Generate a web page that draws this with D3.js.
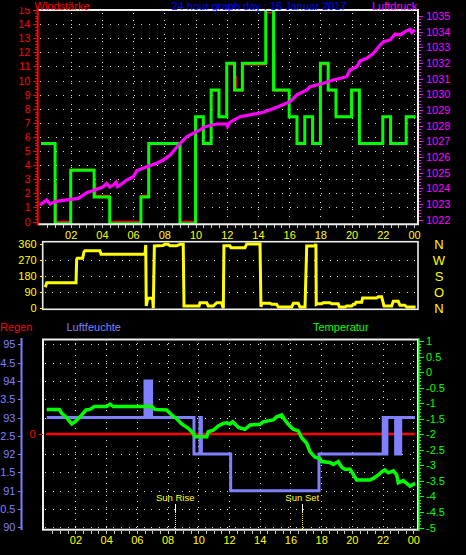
<!DOCTYPE html>
<html><head><meta charset="utf-8">
<script src="https://cdn.jsdelivr.net/npm/d3@7"></script>
<style>html,body{margin:0;padding:0;background:#000;}svg{display:block;}</style>
</head><body>
<svg id="c" width="466" height="555"></svg>
<script>
// ---------- tick labels ----------
const hourTicks = [2,4,6,8,10,12,14,16,18,20,22,24];
const hourLabels = ["02","04","06","08","10","12","14","16","18","20","22","00"];
const windTicks = [0,1,2,3,4,5,6,7,8,9,10,11,12,13,14,15];
const windGrid = [1,2,3,4,5,6,7,8,9,10,11,12,13,14];
const pressureTicks = [1022,1023,1024,1025,1026,1027,1028,1029,1030,1031,1032,1033,1034,1035];
const dirTicks = [0,90,180,270,360];
const dirLetters = ["N","O","S","W","N"];
const dirGrid = [90,180,270];
const humidityTicks = [90,90.5,91,91.5,92,92.5,93,93.5,94,94.5,95];
const tempTicks = [1,0.5,0,-0.5,-1,-1.5,-2,-2.5,-3,-3.5,-4,-4.5,-5];
const rainTicks = [0];

// ---------- series ----------
// wind gusts (green), step series, hours / km/h
const gustTimes  = [0.1,1.0,2.0,3.5,4.5,6.5,7.0,9.0,10.0,10.5,11.0,11.5,12.0,12.5,13.0,14.5,15.0,16.0,16.5,17.0,17.5,18.0,18.5,19.0,20.0,20.5,22.0,22.5,23.5,24.1];
const gustValues = [5.53,-0.16,3.63,1.73,-0.16,1.73,5.53,-0.16,7.43,5.53,9.32,7.43,11.22,9.32,11.22,17,9.32,7.43,5.53,7.43,5.53,11.22,9.32,7.43,9.32,5.53,7.43,5.53,7.43,7.43];
// wind strength (red)
const windTimes  = [0.1,1.0,1.1,2.0,3.5,3.6,4.5,6.5,7.0,9.0,10.0,10.5,11.0,11.5,12.0,12.5,12.6,13.0,14.5,15.0,15.08,16.0,16.5,17.0,17.5,18.0,18.5,19.0,20.0,20.5,22.0,22.5,23.5,24.1];
const windValues = [5.56,2.7,0,3.7,2.7,1.85,0,1.85,5.56,0,7.41,5.56,9.26,7.41,11.11,10.3,9.26,11.11,14.8,11.9,9.26,7.41,5.56,7.41,5.56,11.11,9.26,7.41,9.26,5.56,7.41,5.56,7.41,7.41];
// pressure (magenta)
const pressureTimes  = [0.03,0.46,0.67,0.99,1.74,2.49,3.03,3.67,4.09,4.3,4.5,4.73,4.9,5.0,5.16,5.59,6.01,6.23,6.87,7.51,7.94,8.37,9.01,9.44,9.86,10.29,10.61,11.36,12.0,12.05,12.2,12.85,13.49,14.35,15.21,16.06,16.49,17.13,17.34,18.19,18.83,19.69,19.9,20.33,20.54,20.97,21.4,21.83,22.04,22.47,22.79,23.11,23.43,23.76,23.86,24.07];
const pressureValues = [1022.93,1023.25,1022.99,1023.14,1023.25,1023.35,1023.71,1023.93,1024.10,1024.3,1024.08,1024.2,1024.38,1024.1,1024.2,1024.52,1024.73,1025.12,1025.37,1025.59,1025.8,1026.12,1026.87,1027.29,1027.51,1027.72,1027.93,1028.1,1028.1,1027.95,1028.2,1028.57,1028.68,1028.85,1029.17,1029.53,1029.96,1030.27,1030.49,1030.7,1030.91,1031.12,1031.55,1031.76,1032.13,1032.3,1032.62,1033.15,1033.36,1033.47,1033.85,1033.79,1034.0,1034.15,1033.94,1034.11];
// wind direction (yellow)
const dirTimes  = [0.04,0.13,2.04,2.08,2.12,2.47,2.56,2.62,3.60,3.67,6.53,6.58,6.61,6.71,7.03,7.07,7.14,7.70,7.83,8.03,8.16,8.59,8.81,9.02,9.07,10.05,10.11,10.55,10.65,10.98,11.20,11.52,11.63,11.67,12.06,12.13,13.04,13.15,14.02,14.08,14.15,14.67,14.78,15.10,15.21,16.08,16.19,16.51,16.62,16.95,17.06,17.60,17.66,17.68,17.75,18.03,18.14,18.57,18.68,19.11,19.18,19.55,19.66,19.99,20.09,20.20,20.27,20.64,20.70,21.61,21.72,21.94,22.09,22.59,22.70,23.02,23.13,23.45,23.57,24.15];
const dirValues = [118,143,143,274,280,280,317,322,322,302,302,355,13,56,56,0,349,352,358,358,350,350,358,358,13,13,31,31,13,13,31,31,0,350,350,339,339,360,360,9,28,28,22,22,7,7,28,28,7,7,349,349,360,22,25,25,31,31,25,25,7,7,13,13,22,22,34,34,58,58,64,64,13,13,39,39,17,17,7,7];
// humidity (blue), step series
const humTimes  = [0.13,6.53,6.6,6.67,6.74,6.81,6.88,6.92,6.96,9.72,10.11,10.2,12.11,17.86,22.04,22.1,22.16,22.22,22.28,22.85,22.98,23.07,23.18,24.11];
const humValues = [93,94,93,94,93,94,93,94,93,92,93,92,91,92,93,92,93,92,93,92,93,92,93,93];
// temperature (green)
const tempTimes  = [0.13,0.95,1.11,1.43,1.76,1.97,2.30,2.69,2.95,3.23,4.04,4.25,4.47,5.77,6.97,7.18,7.94,8.27,8.59,8.92,9.35,9.67,9.79,10.55,10.65,10.98,11.30,11.63,11.85,12.06,12.24,12.62,12.80,13.04,13.37,14.02,14.23,14.88,15.10,15.43,15.64,15.86,16.18,16.51,16.73,17.06,17.27,17.60,17.92,18.03,18.57,18.79,19.11,19.34,19.55,19.88,20.05,20.31,21.18,21.39,21.72,21.94,22.15,22.37,22.70,22.92,23.02,23.35,23.57,23.78,24.11];
const tempValues = [-1.20,-1.20,-1.33,-1.47,-1.67,-1.60,-1.44,-1.22,-1.20,-1.11,-1.11,-1.03,-1.11,-1.11,-1.11,-1.20,-1.22,-1.38,-1.50,-1.67,-1.81,-1.97,-2.08,-2.08,-1.92,-1.87,-1.73,-1.65,-1.63,-1.67,-1.60,-1.78,-1.81,-1.84,-1.70,-1.68,-1.60,-1.54,-1.44,-1.38,-1.54,-1.68,-1.84,-1.89,-2.11,-2.29,-2.56,-2.74,-2.78,-2.88,-2.91,-2.97,-2.88,-3.06,-3.13,-3.13,-3.26,-3.47,-3.47,-3.42,-3.31,-3.21,-3.15,-3.24,-3.18,-3.31,-3.56,-3.49,-3.58,-3.67,-3.58];
// rain (red)
const rainTimes = [0.1,24.1];
const rainValues = [0,0];
// sun
const sunTimes = [8.5,16.77];
const sunLabels = ["Sun Rise","Sun Set"];

// ---------- drawing ----------
const FONT = "'Liberation Sans', Arial, sans-serif";
const WHITE = "#eeeeee", GRID = "#dddddd";
const RED = "#ff0000", GREEN = "#00ff00", MAG = "#ff00ff", YEL = "#ffff00", HUM = "#8080ff", BLUE = "#0000ff";
const svg = d3.select("#c");
svg.append("rect").attr("width",466).attr("height",555).attr("fill","#000");
const zip = (a,b) => a.map((t,i)=>[t,b[i]]);

// scales
const xTop = d3.scaleLinear().domain([0,24]).range([39.5,414]);
const yWind = d3.scaleLinear().domain([0,15]).range([221.5,10]);
const yPress = d3.scaleLinear().domain([1022,1035]).range([219.5,16]);
const xBot = d3.scaleLinear().domain([0,24]).range([44.7,413.3]);
const yDir = d3.scaleLinear().domain([0,360]).range([308.3,244]);
const yHum = d3.scaleLinear().domain([90,95]).range([527.3,344.3]);
const yTemp = d3.scaleLinear().domain([-5,1]).range([527.5,341]);
const yRain = d3.scaleLinear().domain([0,1]).range([434,400]);

function styleAxis(g, color, size, family) {
  g.attr("font-family", family || FONT).attr("font-size", size);
  g.select(".domain").remove();
  g.selectAll("line").attr("stroke", color).attr("shape-rendering","crispEdges");
  g.selectAll("text").attr("fill", color);
}
const px = v => Math.round(v) + 0.5;

// ===== TOP PANEL =====
const T = {l:38, r:418, t:10, b:224.3};
svg.append("g").selectAll("line").data(windGrid).join("line")
  .attr("x1",T.l+2).attr("x2",T.r-2).attr("y1",d=>px(yWind(d))).attr("y2",d=>px(yWind(d)))
  .attr("stroke",GRID).attr("stroke-dasharray","1,6.8").attr("shape-rendering","crispEdges");
svg.append("g").selectAll("line").data(hourTicks).join("line")
  .attr("x1",d=>px(xTop(d))).attr("x2",d=>px(xTop(d))).attr("y1",T.t+3).attr("y2",T.b-1)
  .attr("stroke",GRID).attr("stroke-dasharray","1,6").attr("shape-rendering","crispEdges");

svg.append("clipPath").attr("id","ct").append("rect")
  .attr("x",T.l).attr("y",T.t).attr("width",T.r-T.l).attr("height",T.b-T.t);
const gTop = svg.append("g").attr("clip-path","url(#ct)");
const stepLine = d3.line().x(d=>xTop(d[0])).y(d=>yWind(d[1])).curve(d3.curveStepAfter);
gTop.append("path").attr("d",stepLine(zip(windTimes,windValues))).attr("fill","none").attr("stroke",RED).attr("stroke-width",1.5);
gTop.append("path").attr("d",stepLine(zip(gustTimes,gustValues))).attr("fill","none").attr("stroke",GREEN).attr("stroke-width",3);
const pLine = d3.line().x(d=>xTop(d[0])).y(d=>yPress(d[1]));
gTop.append("path").attr("d",pLine(zip(pressureTimes,pressureValues))).attr("fill","none").attr("stroke",MAG).attr("stroke-width",3.2).attr("stroke-linejoin","miter");

svg.append("path").attr("d",`M${T.l},${T.t}H${T.r}V${T.b}H${T.l}`).attr("fill","none").attr("stroke",WHITE).attr("stroke-width",2);
svg.append("line").attr("x1",37.7).attr("x2",37.7).attr("y1",T.t-1).attr("y2",T.b+1).attr("stroke",RED).attr("stroke-width",2);

svg.append("g").attr("transform","translate(37,0)")
  .call(d3.axisLeft(yWind).tickValues(d3.range(0,15.01,0.2)).tickSize(2).tickFormat(""))
  .call(g=>styleAxis(g,RED,11));
svg.append("g").attr("transform","translate(37,0)")
  .call(d3.axisLeft(yWind).tickValues(windTicks).tickSize(4).tickPadding(2.5).tickFormat(d3.format("d")))
  .call(g=>styleAxis(g,RED,11));
svg.append("g").attr("transform","translate(419,0)")
  .call(d3.axisRight(yPress).tickValues(d3.range(1022,1035.01,0.2)).tickSize(2).tickFormat(""))
  .call(g=>styleAxis(g,MAG,11));
svg.append("g").attr("transform","translate(419,0)")
  .call(d3.axisRight(yPress).tickValues(pressureTicks).tickSize(4).tickPadding(3).tickFormat(d3.format("d")))
  .call(g=>styleAxis(g,MAG,11));
svg.append("g").attr("transform",`translate(0,${T.b+1})`)
  .call(d3.axisBottom(xTop).tickValues(d3.range(1,49).map(i=>i/2)).tickSize(3).tickFormat(""))
  .call(g=>styleAxis(g,"#cccccc",11));
svg.append("g").attr("transform",`translate(0,${T.b})`)
  .call(d3.axisBottom(xTop).tickValues(hourTicks).tickSize(0).tickPadding(7).tickFormat((d,i)=>hourLabels[i]))
  .call(g=>styleAxis(g,YEL,11));

svg.append("rect").attr("x",0).attr("y",0).attr("width",36).attr("height",7.5).attr("fill","#000");
const title = (txt,x,y,color,anchor) => svg.append("text").attr("x",x).attr("y",y).attr("fill",color)
  .attr("font-family",FONT).attr("font-size",11).attr("text-anchor",anchor||"start").text(txt);
title("Windstärke",34.5,10,RED);
title("24 hour graph day : 16 Januar 2017",171.5,10,BLUE);
title("Luftdruck",372,10,MAG);

// ===== MIDDLE PANEL =====
const M = {l:42.7, r:418, t:241.7, b:309.3};
svg.append("g").selectAll("line").data(dirGrid).join("line")
  .attr("x1",M.l+2).attr("x2",M.r-2).attr("y1",d=>px(yDir(d))).attr("y2",d=>px(yDir(d)))
  .attr("stroke",GRID).attr("stroke-dasharray","1,6.7").attr("shape-rendering","crispEdges");
svg.append("path").attr("d",d3.line().x(d=>xBot(d[0])).y(d=>yDir(d[1]))(zip(dirTimes,dirValues)))
  .attr("fill","none").attr("stroke",YEL).attr("stroke-width",3);
svg.append("rect").attr("x",M.l).attr("y",M.t).attr("width",M.r-M.l).attr("height",M.b-M.t)
  .attr("fill","none").attr("stroke",WHITE).attr("stroke-width",1.6);
svg.append("g").attr("transform",`translate(${M.l},0)`)
  .call(d3.axisLeft(yDir).tickValues(dirTicks).tickSize(3).tickPadding(3).tickFormat(d3.format("d")))
  .call(g=>styleAxis(g,YEL,11));
svg.append("g").attr("transform","translate(439,0)")
  .call(d3.axisRight(yDir).tickValues(dirTicks).tickSize(0).tickPadding(0).tickFormat((d,i)=>dirLetters[i]))
  .call(g=>{styleAxis(g,YEL,13); g.selectAll("text").attr("text-anchor","middle");});

// ===== BOTTOM PANEL =====
const B = {l:43, r:418, t:339.5, b:529.7};
title("Regen",0,331,RED);
title("Luftfeuchte",66.5,331,HUM);
title("Temperatur",313,331,GREEN);

svg.append("g").selectAll("line").data(humidityTicks.filter(d=>d!==92.5)).join("line")
  .attr("x1",B.l+2).attr("x2",B.r-2).attr("y1",d=>px(yHum(d))).attr("y2",d=>px(yHum(d)))
  .attr("stroke",GRID).attr("stroke-dasharray","1,6.6").attr("shape-rendering","crispEdges");
svg.append("g").selectAll("line").data(hourTicks).join("line")
  .attr("x1",d=>px(xBot(d))).attr("x2",d=>px(xBot(d))).attr("y1",B.t+3).attr("y2",B.b-1)
  .attr("stroke",GRID).attr("stroke-dasharray","1,5.1").attr("shape-rendering","crispEdges");

const sun = svg.append("g").selectAll("g").data(sunTimes).join("g");
sun.append("line").attr("x1",d=>px(xBot(d))).attr("x2",d=>px(xBot(d))).attr("y1",B.b-26).attr("y2",B.b-18)
  .attr("stroke","#ffffff").attr("stroke-width",1).attr("shape-rendering","crispEdges");
sun.append("line").attr("x1",d=>px(xBot(d))).attr("x2",d=>px(xBot(d))).attr("y1",B.b-18).attr("y2",B.b-1)
  .attr("stroke",YEL).attr("stroke-dasharray","1,1").attr("shape-rendering","crispEdges");
sun.append("text").attr("x",d=>xBot(d)).attr("y",B.b-28.5).attr("text-anchor","middle")
  .attr("fill",YEL).attr("font-family",FONT).attr("font-size",9.5).text((d,i)=>sunLabels[i]);

svg.append("path").attr("d",d3.line().x(d=>xBot(d[0])).y(d=>yRain(d[1]))(zip(rainTimes,rainValues)))
  .attr("fill","none").attr("stroke",RED).attr("stroke-width",2.5);
svg.append("path").attr("d",d3.line().x(d=>xBot(d[0])).y(d=>yHum(d[1])).curve(d3.curveStepAfter)(zip(humTimes,humValues)))
  .attr("fill","none").attr("stroke",HUM).attr("stroke-width",3);
svg.append("path").attr("d",d3.line().x(d=>xBot(d[0])).y(d=>yTemp(d[1]))(zip(tempTimes,tempValues)))
  .attr("fill","none").attr("stroke",GREEN).attr("stroke-width",3.5);

svg.append("rect").attr("x",B.l).attr("y",B.t).attr("width",B.r-B.l).attr("height",B.b-B.t)
  .attr("fill","none").attr("stroke",WHITE).attr("stroke-width",2);

svg.append("line").attr("x1",21.5).attr("x2",21.5).attr("y1",338).attr("y2",530).attr("stroke",HUM).attr("stroke-width",2);
svg.append("g").attr("transform","translate(21,0)")
  .call(d3.axisLeft(yHum).tickValues(humidityTicks).tickSize(3).tickPadding(2.5).tickFormat(d=>String(d)))
  .call(g=>styleAxis(g,HUM,11));
svg.append("g").attr("transform",`translate(${B.l-0.5},0)`)
  .call(d3.axisLeft(yRain).tickValues(rainTicks).tickSize(4).tickPadding(3).tickFormat(d=>String(d)))
  .call(g=>{styleAxis(g,RED,11); g.selectAll("line").attr("stroke-width",1.5);});
svg.append("line").attr("x1",419).attr("x2",419).attr("y1",B.t-1).attr("y2",B.b+1).attr("stroke",GREEN).attr("stroke-width",1.5);
svg.append("g").attr("transform","translate(419,0)")
  .call(d3.axisRight(yTemp).tickValues(d3.range(-5,1.001,0.1)).tickSize(2).tickFormat(""))
  .call(g=>styleAxis(g,GREEN,11));
svg.append("g").attr("transform","translate(419,0)")
  .call(d3.axisRight(yTemp).tickValues(tempTicks).tickSize(4.5).tickPadding(2.5).tickFormat(d=>String(d)))
  .call(g=>styleAxis(g,GREEN,11));
svg.append("g").attr("transform",`translate(0,${B.b+1})`)
  .call(d3.axisBottom(xBot).tickValues(d3.range(1,49).map(i=>i/2)).tickSize(3).tickFormat(""))
  .call(g=>styleAxis(g,"#cccccc",11));
svg.append("g").attr("transform",`translate(0,${B.b})`)
  .call(d3.axisBottom(xBot).tickValues(hourTicks).tickSize(0).tickPadding(6.5).tickFormat((d,i)=>hourLabels[i]))
  .call(g=>styleAxis(g,YEL,11));
</script></body></html>
